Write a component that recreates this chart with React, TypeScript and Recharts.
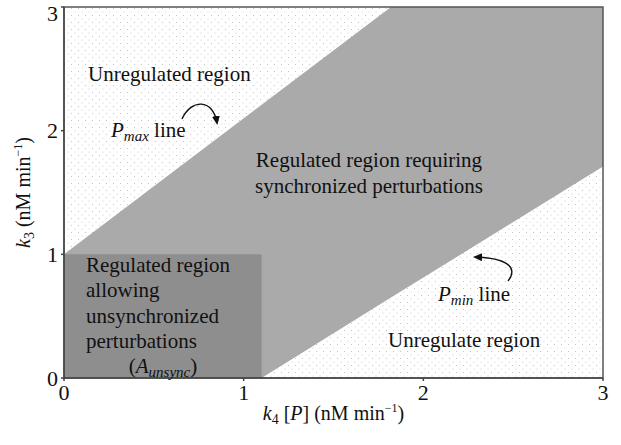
import { ComposedChart, Area, XAxis, YAxis, ReferenceArea } from "recharts"

// k4[P] sample points where the band boundaries change slope
const k4Points = [0, 1.1, 1.82, 3]
// lower edge of the regulated band (Pmin line, clipped at 0)
const pminEdge = [0, 0, 0.65, 1.71]
// upper edge of the regulated band (Pmax line, clipped at 3)
const pmaxEdge = [1, 2.21, 3, 3]

// rectangle A_unsync
const unsyncK4 = [0, 1.1]
const unsyncK3 = [0, 1]

const xTicks = [0, 1, 2, 3]
const yTicks = [0, 1, 2, 3]

const data = k4Points.map((k, i) => ({ k, band: [pminEdge[i], pmaxEdge[i]] }))

const W = 621
const H = 445
const LEFT = 64
const TOP = 7
const RIGHT = 18
const BOTTOM = 67
const font = "'Liberation Serif', 'DejaVu Serif', serif"

const sx = (v: number) => LEFT + (v / 3) * (W - LEFT - RIGHT)
const sy = (v: number) => TOP + (1 - v / 3) * (H - TOP - BOTTOM)

function Annotations() {
  return (
    <svg width={W} height={H} style={{ position: "absolute", left: 0, top: 0, pointerEvents: "none" }}>
      <defs>
        <marker id="arrowHead" markerWidth="9" markerHeight="8" refX="7" refY="4" orient="auto" markerUnits="userSpaceOnUse">
          <path d="M0,0 L9,4 L0,8 z" fill="#111" />
        </marker>
      </defs>
      <g style={{ fontFamily: font }} fill="#111" fontSize={21}>
        <text x={88} y={81}>Unregulated region</text>
        <text x={111} y={137}>
          <tspan fontStyle="italic">P</tspan>
          <tspan fontStyle="italic" fontSize={15} dy={4}>max</tspan>
          <tspan dy={-4}> line</tspan>
        </text>
        <text x={369} y={167} textAnchor="middle">Regulated region requiring</text>
        <text x={369} y={193} textAnchor="middle">synchronized perturbations</text>
        <text x={86} y={272}>Regulated region</text>
        <text x={86} y={297}>allowing</text>
        <text x={86} y={323}>unsynchronized</text>
        <text x={86} y={348}>perturbations</text>
        <text x={163} y={373} textAnchor="middle">
          (<tspan fontStyle="italic">A</tspan>
          <tspan fontStyle="italic" fontSize={15} dy={4}>unsync</tspan>
          <tspan dy={-4}>)</tspan>
        </text>
        <text x={438} y={301}>
          <tspan fontStyle="italic">P</tspan>
          <tspan fontStyle="italic" fontSize={15} dy={4}>min</tspan>
          <tspan dy={-4}> line</tspan>
        </text>
        <text x={388} y={347}>Unregulate region</text>

        <text x={sx(1.5)} y={420} textAnchor="middle" fontSize={20}>
          <tspan fontStyle="italic">k</tspan>
          <tspan fontSize={14} dy={4}>4</tspan>
          <tspan dy={-4}> [</tspan>
          <tspan fontStyle="italic">P</tspan>
          <tspan>] (nM  min</tspan>
          <tspan fontSize={12} dy={-8}>−1</tspan>
          <tspan dy={8}>)</tspan>
        </text>
        <text transform={`translate(30, ${sy(1.5)}) rotate(-90)`} textAnchor="middle" fontSize={20}>
          <tspan fontStyle="italic">k</tspan>
          <tspan fontSize={14} dy={4}>3</tspan>
          <tspan dy={-4}> (nM  min</tspan>
          <tspan fontSize={12} dy={-8}>−1</tspan>
          <tspan dy={8}>)</tspan>
        </text>
      </g>
      <path d="M182,119 C191,99 213,98 217,123" fill="none" stroke="#111" strokeWidth={1.4} markerEnd="url(#arrowHead)" />
      <path d="M508,281 C519,267 506,258 475,257" fill="none" stroke="#111" strokeWidth={1.4} markerEnd="url(#arrowHead)" />
    </svg>
  )
}

export default function App() {
  return (
    <div style={{ position: "absolute", left: 0, top: 0, width: W, height: H, background: "#fff" }}>
      <ComposedChart width={W} height={H} data={data} margin={{ top: TOP, right: RIGHT, bottom: 0, left: 0 }}>
        <defs>
          <pattern id="dots" width="7" height="7" patternUnits="userSpaceOnUse">
            <circle cx="1.5" cy="1.5" r="0.6" fill="#bdbdbd" />
            <circle cx="5" cy="5" r="0.6" fill="#c8c8c8" />
          </pattern>
        </defs>
        <XAxis
          type="number"
          dataKey="k"
          domain={[0, 3]}
          ticks={xTicks}
          height={BOTTOM}
          stroke="#444"
          strokeWidth={1.5}
          tickSize={3}
          tick={{ fill: "#111", fontSize: 22, fontFamily: font }}
          tickMargin={3}
        />
        <YAxis
          type="number"
          domain={[0, 3]}
          ticks={yTicks}
          width={LEFT}
          stroke="#444"
          strokeWidth={1.5}
          tickSize={3}
          tick={{ fill: "#111", fontSize: 22, fontFamily: font }}
          tickMargin={3}
        />
        <ReferenceArea x1={0} x2={3} y1={0} y2={3} fill="url(#dots)" fillOpacity={1} stroke="none" />
        <Area
          type="linear"
          dataKey="band"
          fill="#aaaaaa"
          fillOpacity={1}
          stroke="none"
          isAnimationActive={false}
          dot={false}
          activeDot={false}
        />
        <ReferenceArea
          x1={unsyncK4[0]}
          x2={unsyncK4[1]}
          y1={unsyncK3[0]}
          y2={unsyncK3[1]}
          fill="#8e8e8e"
          fillOpacity={1}
          stroke="none"
        />
        <ReferenceArea x1={0} x2={3} y1={0} y2={3} fill="none" stroke="#555" strokeWidth={1.5} />
      </ComposedChart>
      <Annotations />
    </div>
  )
}
